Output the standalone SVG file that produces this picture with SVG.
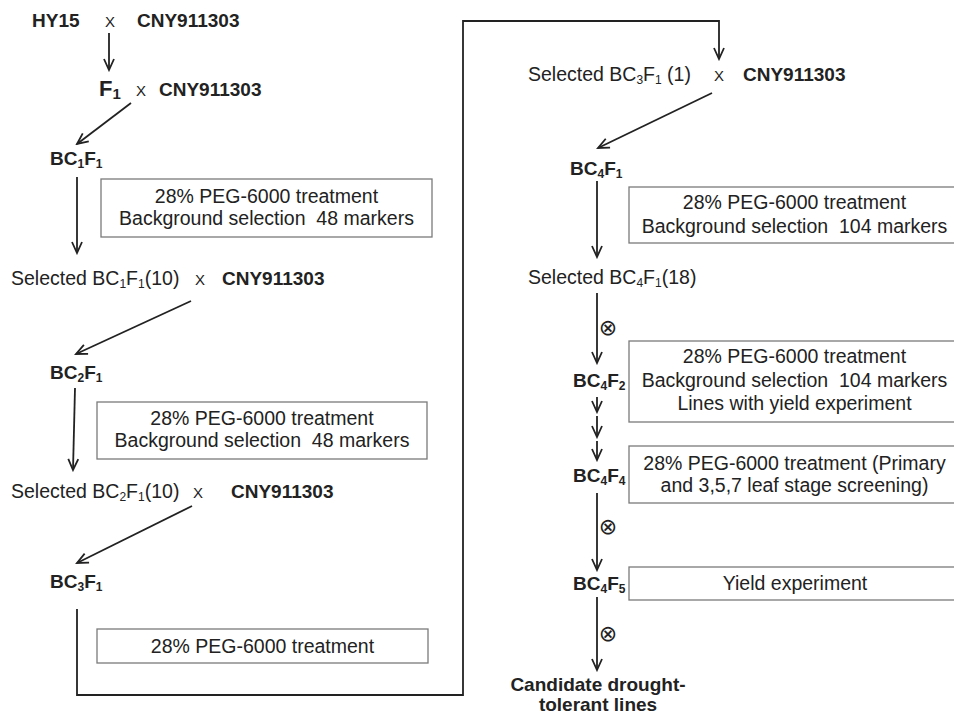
<svg xmlns="http://www.w3.org/2000/svg" width="954" height="716" viewBox="0 0 954 716">
<style>
text{font-family:"Liberation Sans",Arial,sans-serif;fill:#222;}
.b{font-weight:bold;font-size:19px;}
.r{font-size:19.5px;}
.x{font-size:15px;text-anchor:middle;}
.s{font-size:12px;}
.m{text-anchor:middle;}
.box{fill:#fff;stroke:#7a7a7a;stroke-width:1.3;}
.ln{fill:none;stroke:#222;stroke-width:1.8;}
.self{font-family:"DejaVu Sans",sans-serif;font-size:22px;text-anchor:middle;}
</style>
<defs>
<marker id="ah" viewBox="-13 -7 15 14" refX="0" refY="0" markerWidth="15" markerHeight="14" markerUnits="userSpaceOnUse" orient="auto">
<path d="M-11,-5 L0,0 L-11,5" fill="none" stroke="#222" stroke-width="1.8"/>
</marker>
</defs>

<g id="connectors">
<line class="ln" x1="109" y1="33" x2="109" y2="70" marker-end="url(#ah)"/>
<line class="ln" x1="131" y1="103" x2="77" y2="144" marker-end="url(#ah)"/>
<line class="ln" x1="77" y1="177" x2="77" y2="253" marker-end="url(#ah)"/>
<line class="ln" x1="191" y1="301" x2="76" y2="354" marker-end="url(#ah)"/>
<line class="ln" x1="75" y1="388" x2="73" y2="470" marker-end="url(#ah)"/>
<line class="ln" x1="192" y1="506" x2="77" y2="563" marker-end="url(#ah)"/>
<polyline class="ln" points="77,609 77,695 463,695 463,21 719,21 719,59" marker-end="url(#ah)"/>
<line class="ln" x1="712" y1="93" x2="598" y2="148" marker-end="url(#ah)"/>
<line class="ln" x1="597" y1="181" x2="597" y2="257" marker-end="url(#ah)"/>
<line class="ln" x1="597" y1="293" x2="597" y2="363" marker-end="url(#ah)"/>
<line class="ln" x1="597" y1="397" x2="597" y2="412" marker-end="url(#ah)"/>
<line class="ln" x1="597" y1="416" x2="597" y2="437" marker-end="url(#ah)"/>
<line class="ln" x1="597" y1="441" x2="597" y2="460" marker-end="url(#ah)"/>
<line class="ln" x1="597" y1="493" x2="597" y2="570" marker-end="url(#ah)"/>
<line class="ln" x1="597" y1="597" x2="597" y2="670" marker-end="url(#ah)"/>
<text class="self" x="608" y="335">⊗</text>
<text class="self" x="608" y="534">⊗</text>
<text class="self" x="608" y="641">⊗</text>
</g>

<g id="cross1">
<text class="b" x="32" y="27">HY15</text>
<text class="x" x="110" y="27">X</text>
<text class="b" x="137" y="27">CNY911303</text>
</g>

<g id="cross2">
<text class="b" x="99" y="96" style="font-size:22px">F<tspan dy="3" style="font-size:15px">1</tspan></text>
<text class="x" x="141" y="96">X</text>
<text class="b" x="159" y="96">CNY911303</text>
</g>

<g id="bc1f1">
<text class="b" x="50" y="165">BC<tspan class="s" dy="3">1</tspan><tspan dy="-3">F</tspan><tspan class="s" dy="3">1</tspan></text>
</g>

<g id="box1">
<rect class="box" x="101" y="179" width="331" height="58"/>
<text class="r m" x="266.5" y="203">28% PEG-6000 treatment</text>
<text class="r m" x="266.5" y="225" xml:space="preserve">Background selection  48 markers</text>
</g>

<g id="cross3">
<text class="r" x="11" y="285">Selected BC<tspan class="s" dy="3">1</tspan><tspan dy="-3">F</tspan><tspan class="s" dy="3">1</tspan><tspan dy="-3">(10)</tspan></text>
<text class="x" x="200" y="285">X</text>
<text class="b" x="222" y="285">CNY911303</text>
</g>

<g id="bc2f1">
<text class="b" x="50" y="379">BC<tspan class="s" dy="3">2</tspan><tspan dy="-3">F</tspan><tspan class="s" dy="3">1</tspan></text>
</g>

<g id="box2">
<rect class="box" x="97" y="402" width="330" height="57"/>
<text class="r m" x="262" y="425">28% PEG-6000 treatment</text>
<text class="r m" x="262" y="447" xml:space="preserve">Background selection  48 markers</text>
</g>

<g id="cross4">
<text class="r" x="11" y="498">Selected BC<tspan class="s" dy="3">2</tspan><tspan dy="-3">F</tspan><tspan class="s" dy="3">1</tspan><tspan dy="-3">(10)</tspan></text>
<text class="x" x="198" y="498">X</text>
<text class="b" x="231" y="498">CNY911303</text>
</g>

<g id="bc3f1">
<text class="b" x="50" y="588">BC<tspan class="s" dy="3">3</tspan><tspan dy="-3">F</tspan><tspan class="s" dy="3">1</tspan></text>
</g>

<g id="box3">
<rect class="box" x="97" y="629" width="331" height="34"/>
<text class="r m" x="262.5" y="653">28% PEG-6000 treatment</text>
</g>

<g id="cross5">
<text class="r" x="528" y="81">Selected BC<tspan class="s" dy="3">3</tspan><tspan dy="-3">F</tspan><tspan class="s" dy="3">1</tspan><tspan dy="-3"> (1)</tspan></text>
<text class="x" x="719" y="81">X</text>
<text class="b" x="743" y="81">CNY911303</text>
</g>

<g id="bc4f1">
<text class="b" x="570" y="175">BC<tspan class="s" dy="3">4</tspan><tspan dy="-3">F</tspan><tspan class="s" dy="3">1</tspan></text>
</g>

<g id="box4">
<rect class="box" x="629" y="187" width="340" height="56"/>
<text class="r m" x="794.5" y="209">28% PEG-6000 treatment</text>
<text class="r m" x="794.5" y="233" xml:space="preserve">Background selection  104 markers</text>
</g>

<g id="sel-bc4f1">
<text class="r" x="528" y="284">Selected BC<tspan class="s" dy="3">4</tspan><tspan dy="-3">F</tspan><tspan class="s" dy="3">1</tspan><tspan dy="-3">(18)</tspan></text>
</g>

<g id="bc4f2">
<text class="b" x="573" y="387">BC<tspan class="s" dy="3">4</tspan><tspan dy="-3">F</tspan><tspan class="s" dy="3">2</tspan></text>
</g>

<g id="box5">
<rect class="box" x="629" y="341" width="340" height="81"/>
<text class="r m" x="794.5" y="363">28% PEG-6000 treatment</text>
<text class="r m" x="794.5" y="387" xml:space="preserve">Background selection  104 markers</text>
<text class="r m" x="794.5" y="410">Lines with yield experiment</text>
</g>

<g id="bc4f4">
<text class="b" x="573" y="482">BC<tspan class="s" dy="3">4</tspan><tspan dy="-3">F</tspan><tspan class="s" dy="3">4</tspan></text>
</g>

<g id="box6">
<rect class="box" x="629" y="446" width="340" height="57"/>
<text class="r m" x="794.5" y="470">28% PEG-6000 treatment (Primary</text>
<text class="r m" x="794.5" y="492">and 3,5,7 leaf stage screening)</text>
</g>

<g id="bc4f5">
<text class="b" x="573" y="590">BC<tspan class="s" dy="3">4</tspan><tspan dy="-3">F</tspan><tspan class="s" dy="3">5</tspan></text>
</g>

<g id="box7">
<rect class="box" x="629" y="567" width="340" height="33"/>
<text class="r m" x="795" y="590">Yield experiment</text>
</g>

<g id="candidate">
<text class="b m" x="598" y="691">Candidate drought-</text>
<text class="b m" x="598" y="711">tolerant lines</text>
</g>
</svg>
